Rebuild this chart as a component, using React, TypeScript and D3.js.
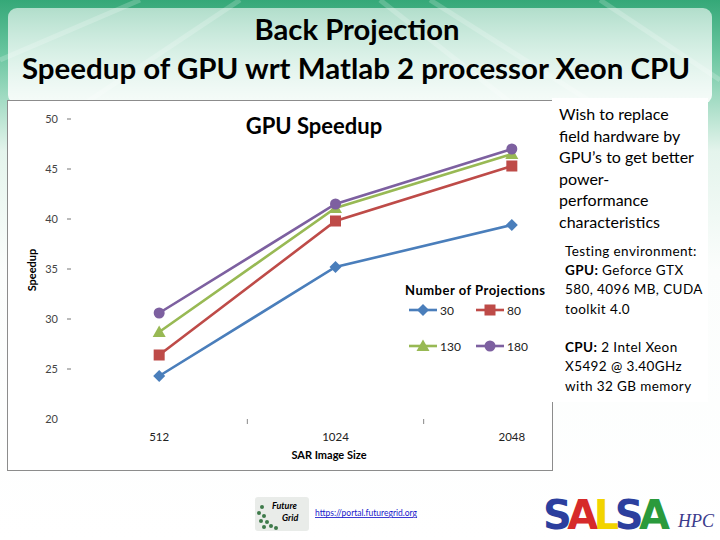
import * as d3 from "d3";

// chart data
const sizes = ["512", "1024", "2048"];
const projections = ["30", "80", "130", "180"];
const speedup30 = [24.3, 35.2, 39.4];
const speedup80 = [26.4, 39.8, 45.3];
const speedup130 = [28.7, 41.1, 46.5];
const speedup180 = [30.6, 41.5, 47.0];
const yTicks = [20, 25, 30, 35, 40, 45, 50];

const colors = ["#4a7ebb", "#be4b48", "#98b954", "#7d60a0"];
const markers = ["diamond", "square", "triangle", "circle"];

const bullets = [
  "Wish to replace",
  "field hardware by",
  "GPU\u2019s to get better",
  "power-",
  "performance",
  "characteristics",
];

const salsa = ["S", "A", "L", "S", "A"];
const salsaColors = ["#2b3f9e", "#d62a2a", "#f2d400", "#2b3f9e", "#2a9a3c"];

const font = "Lato, 'Open Sans', sans-serif";

function Marker({ kind, x, y, color }: { kind: string; x: number; y: number; color: string }) {
  if (kind === "diamond")
    return <path d={`M${x},${y - 6}L${x + 6},${y}L${x},${y + 6}L${x - 6},${y}Z`} fill={color} />;
  if (kind === "square") return <rect x={x - 5.5} y={y - 5.5} width={11} height={11} fill={color} />;
  if (kind === "triangle")
    return <path d={`M${x},${y - 6.5}L${x + 6.5},${y + 5}L${x - 6.5},${y + 5}Z`} fill={color} />;
  return <circle cx={x} cy={y} r={5.5} fill={color} />;
}

export default function App() {
  const series = [speedup30, speedup80, speedup130, speedup180];
  const x = d3.scaleBand<string>().domain(sizes).range([71, 600]);
  const cx = (s: string) => (x(s) ?? 0) + x.bandwidth() / 2;
  const y = d3.scaleLinear().domain([20, 50]).range([419, 119]);
  const line = d3
    .line<number>()
    .x((_, i) => cx(sizes[i]))
    .y((d) => y(d));

  const legendPos = [
    [409, 310],
    [476, 310],
    [409, 346],
    [476, 346],
  ];

  return (
    <svg width={720} height={540} style={{ position: "absolute", left: 0, top: 0 }}>
      <defs>
        <linearGradient id="bg" x1="0" y1="0" x2="0" y2="1">
          <stop offset="0" stopColor="#35a878" />
          <stop offset="0.1" stopColor="#6ac6a0" />
          <stop offset="0.28" stopColor="#e4f4ec" />
          <stop offset="0.5" stopColor="#fbfdfc" />
          <stop offset="1" stopColor="#ffffff" />
        </linearGradient>
        <linearGradient id="titlebox" x1="0" y1="0" x2="0" y2="1">
          <stop offset="0" stopColor="#ffffff" stopOpacity={0.6} />
          <stop offset="1" stopColor="#ffffff" stopOpacity={0.9} />
        </linearGradient>
      </defs>
      <rect width={720} height={540} fill="url(#bg)" />
      {/* light streaks in the header */}
      {[
        [0, 60, 140, 0],
        [60, 120, 240, 0],
        [380, 0, 520, 110],
        [430, 0, 620, 120],
        [600, 0, 720, 80],
      ].map((d, i) => (
        <line key={i} x1={d[0]} y1={d[1]} x2={d[2]} y2={d[3]} stroke="#ffffff" strokeOpacity={0.2} strokeWidth={5} />
      ))}
      <rect x={8} y={8} width={704} height={96} rx={9} fill="url(#titlebox)" />

      <text x={357} y={40} textAnchor="middle" fontFamily={font} fontWeight={700} fontSize={29} textLength={205} lengthAdjust="spacingAndGlyphs">
        Back Projection
      </text>
      <text x={356} y={79} textAnchor="middle" fontFamily={font} fontWeight={700} fontSize={29} textLength={668} lengthAdjust="spacingAndGlyphs">
        Speedup of GPU wrt Matlab 2 processor Xeon CPU
      </text>

      {/* chart box */}
      <rect x={7.5} y={100.5} width={545} height={370} fill="#ffffff" stroke="#8c8c8c" />

      {/* y axis */}
      {yTicks.map((t) => (
        <g key={t}>
          <text x={58} y={y(t) + 4} textAnchor="end" fontFamily={font} fontSize={11} fill="#444">
            {t}
          </text>
          {t !== 20 && <line x1={67} x2={71} y1={y(t)} y2={y(t)} stroke="#777" />}
        </g>
      ))}
      {/* x axis */}
      {sizes.slice(1).map((s) => (
        <line key={s} x1={x(s)} x2={x(s)} y1={419} y2={424} stroke="#888" />
      ))}
      {sizes.map((s) => (
        <text key={s} x={cx(s)} y={441} textAnchor="middle" fontFamily={font} fontSize={11.5} fill="#222">
          {s}
        </text>
      ))}
      <text x={329} y={459} textAnchor="middle" fontFamily={font} fontWeight={700} fontSize={11}>
        SAR Image Size
      </text>
      <text transform="translate(36,270) rotate(-90)" textAnchor="middle" fontFamily={font} fontWeight={700} fontSize={11}>
        Speedup
      </text>
      <text x={314} y={134} textAnchor="middle" fontFamily={font} fontWeight={700} fontSize={22}>
        GPU Speedup
      </text>

      {/* series */}
      {series.map((vals, si) => (
        <g key={si}>
          <path d={line(vals) ?? ""} fill="none" stroke={colors[si]} strokeWidth={2.6} />
          {vals.map((v, i) => (
            <Marker key={i} kind={markers[si]} x={cx(sizes[i])} y={y(v)} color={colors[si]} />
          ))}
        </g>
      ))}

      {/* legend */}
      <text x={405} y={295} fontFamily={font} fontWeight={700} fontSize={13} textLength={140}>
        Number of Projections
      </text>
      {projections.map((p, i) => {
        const [lx, ly] = legendPos[i];
        return (
          <g key={p}>
            <line x1={lx} x2={lx + 28} y1={ly} y2={ly} stroke={colors[i]} strokeWidth={2.6} />
            <Marker kind={markers[i]} x={lx + 14} y={ly} color={colors[i]} />
            <text x={lx + 31} y={ly + 4.5} fontFamily={font} fontSize={12} fill="#222">
              {p}
            </text>
          </g>
        );
      })}

      {/* right-hand text box */}
      <rect x={552} y={98} width={156} height={304} fill="#ffffff" />
      {bullets.map((b, i) => (
        <text key={b} x={559} y={120 + i * 21.6} fontFamily={font} fontSize={16}>
          {b}
        </text>
      ))}
      <g fontFamily={font} fontSize={13.5} letterSpacing={0.4}>
        <text x={565} y={256}>Testing environment:</text>
        <text x={565} y={275}>
          <tspan fontWeight={700}>GPU:</tspan> Geforce GTX
        </text>
        <text x={565} y={294}>580, 4096 MB, CUDA</text>
        <text x={565} y={314}>toolkit 4.0</text>
        <text x={565} y={352}>
          <tspan fontWeight={700}>CPU:</tspan> 2 Intel Xeon
        </text>
        <text x={565} y={371}>X5492 @ 3.40GHz</text>
        <text x={565} y={391}>with 32 GB memory</text>
      </g>

      {/* footer: FutureGrid logo and link */}
      <rect x={255} y={497} width={54} height={34} rx={3} fill="#e9ece9" />
      {[
        [262, 507],
        [259, 513],
        [264, 516],
        [261, 521],
        [267, 522],
        [264, 527],
        [271, 526],
        [276, 528],
      ].map((d, i) => (
        <circle key={i} cx={d[0]} cy={d[1]} r={2} fill="#3e7a4a" />
      ))}
      <text x={272} y={509} fontFamily={font} fontStyle="italic" fontWeight={700} fontSize={9}>
        Future
      </text>
      <text x={282} y={521} fontFamily={font} fontStyle="italic" fontWeight={700} fontSize={9}>
        Grid
      </text>
      <text x={315} y={516} fontFamily={font} fontSize={8.5} fill="#1a1acc" textDecoration="underline">
        https://portal.futuregrid.org
      </text>

      {/* SALSA HPC logo */}
      <text x={543} y={529} fontFamily="'DejaVu Sans', sans-serif" fontWeight={700} fontSize={40} letterSpacing={-4.5}>
        {salsa.map((ch, i) => (
          <tspan key={i} fill={salsaColors[i]}>
            {ch}
          </tspan>
        ))}
      </text>
      <text x={678} y={527} fontFamily="'Liberation Serif', serif" fontStyle="italic" fontSize={18} fill="#3b3b8c">
        HPC
      </text>
    </svg>
  );
}
